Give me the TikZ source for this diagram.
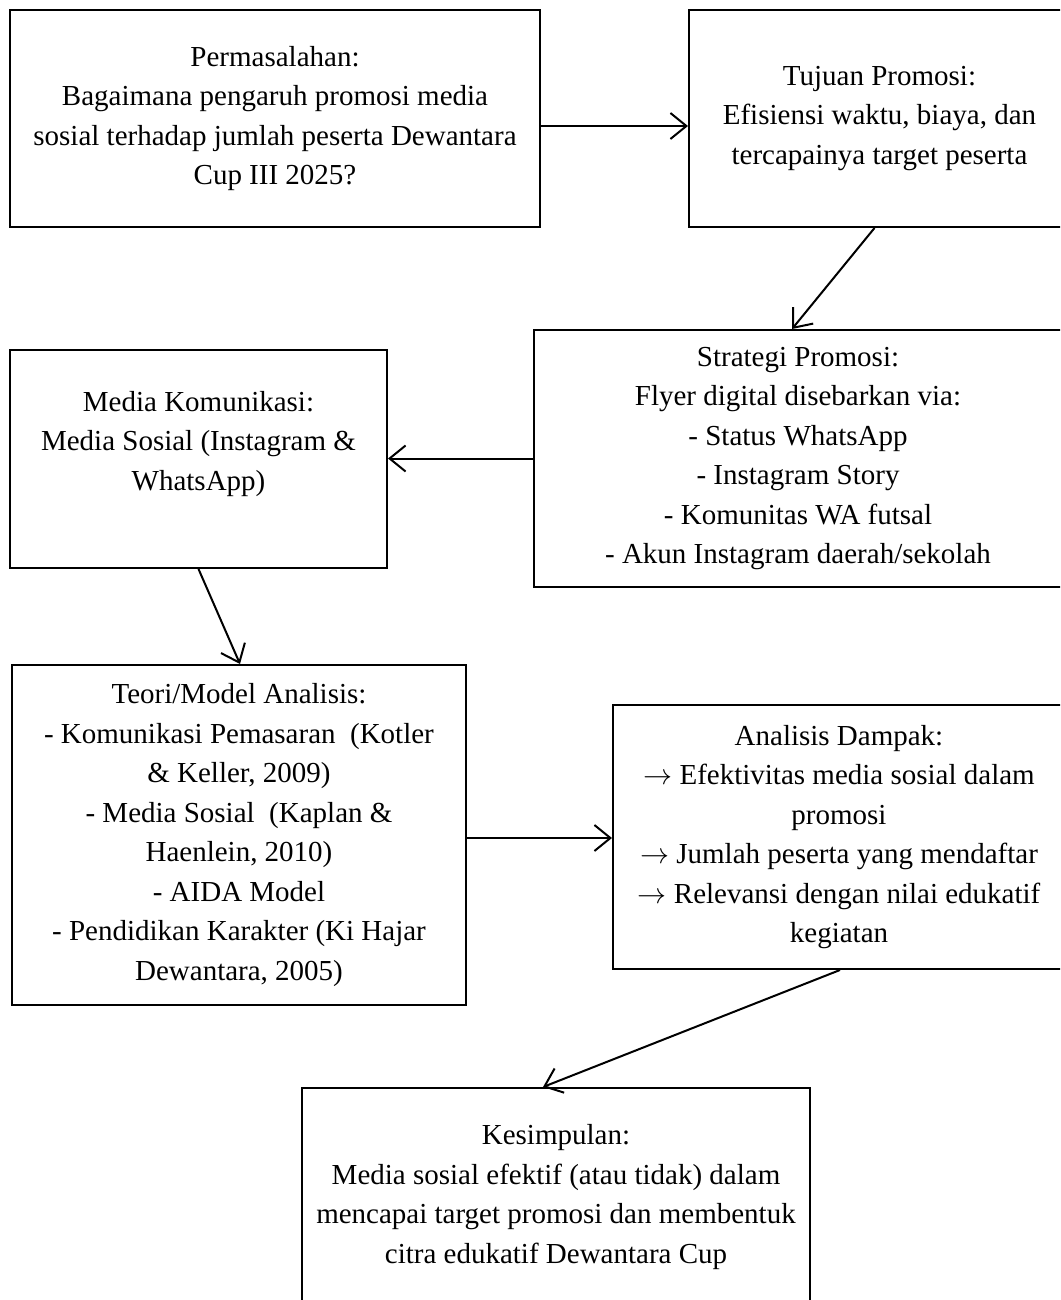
\RequirePackage{fix-cm}
\documentclass[tikz,border=0pt]{standalone}
\usepackage{fontspec}
\setmainfont{Liberation Serif}
\usetikzlibrary{arrows.meta}
\newcommand{\txtfont}{\fontsize{29}{39.5}\selectfont}
\newcommand{\ar}{$\rightarrow$}

\begin{document}
\begin{tikzpicture}[x=1pt, y=-1pt,
  >={Straight Barb[length=16pt,width=26pt]},
  bx/.style={draw, line width=2pt, inner sep=0pt, align=center, font=\txtfont},
  txt/.style={align=center, font=\txtfont},
  arr/.style={->, line width=2pt}]
  \path[use as bounding box] (0,0) rectangle (1060,1300);
  \clip (0,0) rectangle (1060,1300);
  % top row
  \node[bx, minimum width=530pt, minimum height=217pt] (masalah) at (275,118.5)
    {Permasalahan:\\ Bagaimana pengaruh promosi media\\ sosial terhadap jumlah peserta Dewantara\\ Cup III 2025?};
  \node[bx, minimum width=381pt, minimum height=217pt] (tujuan) at (879.5,118.5)
    {Tujuan Promosi:\\ Efisiensi waktu, biaya, dan\\ tercapainya target peserta};
  % middle row
  \node[bx, minimum width=528pt, minimum height=257pt] (strategi) at (798,458.5)
    {Strategi Promosi:\\ Flyer digital disebarkan via:\\ - Status WhatsApp\\ - Instagram Story\\ - Komunitas WA futsal\\ - Akun Instagram daerah/sekolah};
  \node[bx, minimum width=377pt, minimum height=218pt] (media) at (198.5,459) {};
  \node[txt] (mediatxt) at (198.5,444)
    {Media Komunikasi:\\ Media Sosial (Instagram \&\\ WhatsApp)};
  % lower row
  \node[bx, minimum width=454pt, minimum height=340pt] (teori) at (239,835)
    {Teori/Model Analisis:\\ - Komunikasi Pemasaran\ \ (Kotler\\ \& Keller, 2009)\\ - Media Sosial\ \ (Kaplan \&\\ Haenlein, 2010)\\ - AIDA Model\\ - Pendidikan Karakter (Ki Hajar\\ Dewantara, 2005)};
  \node[bx, minimum width=452pt, minimum height=264pt] (dampak) at (839,837)
    {Analisis Dampak:\\ \ar{} Efektivitas media sosial dalam\\ promosi\\ \ar{} Jumlah peserta yang mendaftar\\ \ar{} Relevansi dengan nilai edukatif\\ kegiatan};
  \node[bx, minimum width=508pt, minimum height=218pt] (simpulan) at (556,1197)
    {Kesimpulan:\\ Media sosial efektif (atau tidak) dalam\\ mencapai target promosi dan membentuk\\ citra edukatif Dewantara Cup};
  % arrows
  \draw[arr] ([yshift=-7.5pt]masalah.east) -- ([yshift=-7.5pt]tujuan.west);
  \draw[arr] ([xshift=-5pt]tujuan.south) -- ([xshift=-6pt]strategi.north);
  \draw[arr] (strategi.west) -- (media.east |- strategi.west);
  \draw[arr] (media.south) -- ([xshift=1pt]teori.north);
  \draw[arr] ([yshift=-3pt]teori.east) -- ([yshift=-3pt]teori.east -| dampak.west);
  \draw[arr] ([xshift=1pt]dampak.south) -- ([xshift=-13pt]simpulan.north);
\end{tikzpicture}
\end{document}
